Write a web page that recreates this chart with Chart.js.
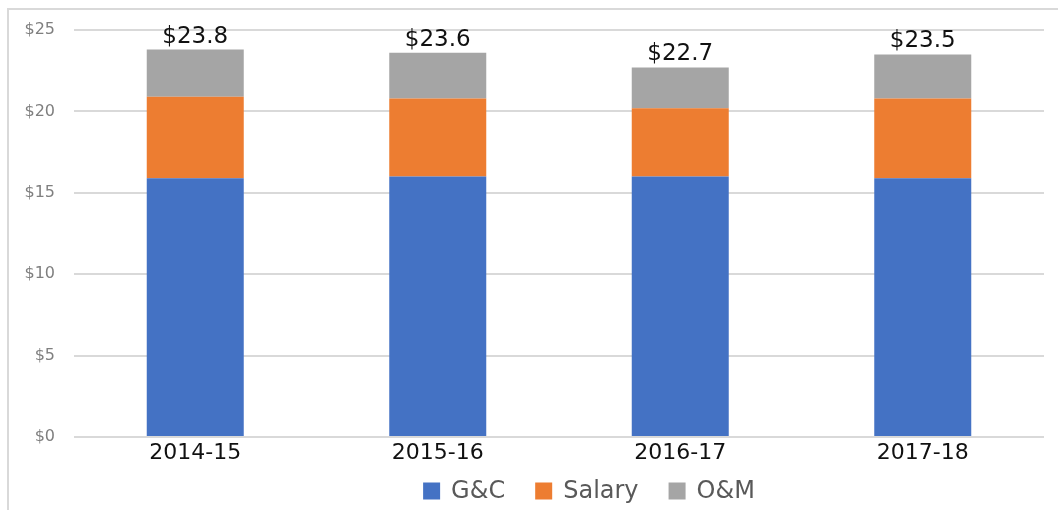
<!DOCTYPE html>
<html>
<head>
<meta charset="utf-8">
<script src="https://cdn.jsdelivr.net/npm/chart.js@4/dist/chart.umd.min.js"></script>
<style>
  html, body { margin: 0; padding: 0; background: #fff; overflow: hidden; }
  #wrap { position: relative; width: 1058px; height: 510px; overflow: hidden; }
  #frame { position: absolute; left: 7px; top: 8px; width: 1100px; height: 600px;
           border-left: 2px solid #d9d9d9; border-top: 2px solid #d9d9d9; pointer-events: none; }
  canvas { position: absolute; left: 0; top: 0; }
</style>
</head>
<body>
<div id="wrap">
  <canvas id="c" width="1058" height="510"></canvas>
  <div id="frame"></div>
</div>
<script>
const categories = ['2014-15', '2015-16', '2016-17', '2017-18'];
const seriesNames = ['G&C', 'Salary', 'O&M'];
const gcValues = [15.9, 16.0, 16.0, 15.9];
const salaryValues = [5.0, 4.8, 4.2, 4.9];
const omValues = [2.9, 2.8, 2.5, 2.7];
const yTicks = [0, 5, 10, 15, 20, 25];
const colors = ['#4472C4', '#ED7D31', '#A5A5A5'];

const FONT = "'DejaVu Sans', sans-serif";

const totalsPlugin = {
  id: 'totals',
  afterDatasetsDraw(chart) {
    const ctx = chart.ctx;
    const xs = chart.scales.x, ys = chart.scales.y;
    ctx.save();
    ctx.font = "23px " + FONT;
    ctx.fillStyle = '#111';
    ctx.textAlign = 'center';
    ctx.textBaseline = 'alphabetic';
    categories.forEach((c, i) => {
      let total = 0;
      chart.data.datasets.forEach(ds => { total += ds.data[i]; });
      const x = xs.getPixelForValue(i);
      const y = ys.getPixelForValue(total);
      ctx.fillText('$' + total.toFixed(1), x, y - 7);
    });
    ctx.restore();
  }
};

const legendPlugin = {
  id: 'customLegend',
  afterDraw(chart) {
    const ctx = chart.ctx;
    const box = 17, gapText = 11, gapItem = 30, cy = 491, cx = 589;
    ctx.save();
    ctx.font = "24px " + FONT;
    ctx.textBaseline = 'middle';
    ctx.textAlign = 'left';
    const items = chart.data.datasets.map(ds => ({
      text: ds.label, color: ds.backgroundColor, w: box + gapText + ctx.measureText(ds.label).width
    }));
    const total = items.reduce((s, it) => s + it.w, 0) + gapItem * (items.length - 1);
    let x = cx - total / 2;
    items.forEach(it => {
      ctx.fillStyle = it.color;
      ctx.fillRect(x, cy - box / 2, box, box);
      ctx.fillStyle = '#595959';
      ctx.fillText(it.text, x + box + gapText, cy + 1);
      x += it.w + gapItem;
    });
    ctx.restore();
  }
};

new Chart(document.getElementById('c'), {
  type: 'bar',
  data: {
    labels: categories,
    datasets: [
      { label: seriesNames[0], data: gcValues, backgroundColor: colors[0] },
      { label: seriesNames[1], data: salaryValues, backgroundColor: colors[1] },
      { label: seriesNames[2], data: omValues, backgroundColor: colors[2] }
    ]
  },
  options: {
    responsive: false,
    animation: false,
    devicePixelRatio: 1,
    layout: { padding: { top: 30, right: 14, left: 0, bottom: 33 } },
    datasets: { bar: { barPercentage: 0.4, categoryPercentage: 1.0, borderWidth: 0 } },
    plugins: {
      legend: { display: false },
      tooltip: { enabled: false }
    },
    scales: {
      x: {
        stacked: true,
        grid: { display: false, drawTicks: false },
        border: { display: false },
        ticks: { color: '#111', font: { family: FONT, size: 22 }, padding: 3 },
        afterFit(scale) { scale.height = 40; }
      },
      y: {
        stacked: true,
        min: 0,
        max: 25,
        afterBuildTicks(scale) { scale.ticks = yTicks.map(v => ({ value: v })); },
        grid: { color: '#d9d9d9', lineWidth: 2, drawTicks: false },
        border: { display: false },
        ticks: {
          color: '#7f7f7f',
          font: { family: FONT, size: 16 },
          padding: 19,
          callback: v => '$' + v
        },
        afterFit(scale) { scale.width = 74; }
      }
    }
  },
  plugins: [totalsPlugin, legendPlugin]
});
</script>
</body>
</html>
